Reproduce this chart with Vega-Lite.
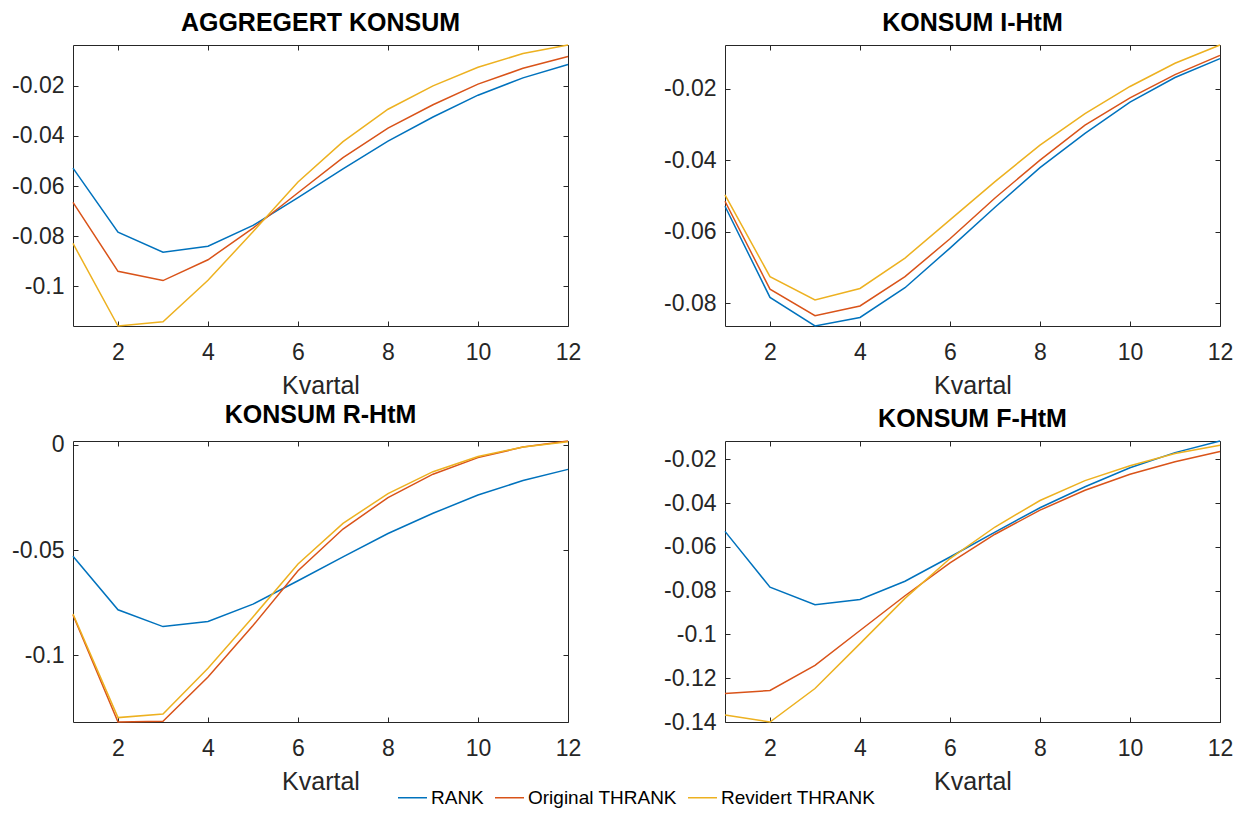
{
  "$schema": "https://vega.github.io/schema/vega-lite/v6.json",
  "background": "white",
  "padding": {"left": 11, "top": 10, "right": 0, "bottom": 0},
  "data": {
    "values": [
      {"panel": "AGG", "serie": "RANK", "kvartal": 1, "verdi": -0.0529},
      {"panel": "AGG", "serie": "RANK", "kvartal": 2, "verdi": -0.0784},
      {"panel": "AGG", "serie": "RANK", "kvartal": 3, "verdi": -0.0864},
      {"panel": "AGG", "serie": "RANK", "kvartal": 4, "verdi": -0.0840},
      {"panel": "AGG", "serie": "RANK", "kvartal": 5, "verdi": -0.0757},
      {"panel": "AGG", "serie": "RANK", "kvartal": 6, "verdi": -0.0646},
      {"panel": "AGG", "serie": "RANK", "kvartal": 7, "verdi": -0.0532},
      {"panel": "AGG", "serie": "RANK", "kvartal": 8, "verdi": -0.0421},
      {"panel": "AGG", "serie": "RANK", "kvartal": 9, "verdi": -0.0325},
      {"panel": "AGG", "serie": "RANK", "kvartal": 10, "verdi": -0.0238},
      {"panel": "AGG", "serie": "RANK", "kvartal": 11, "verdi": -0.0169},
      {"panel": "AGG", "serie": "RANK", "kvartal": 12, "verdi": -0.0116},
      {"panel": "AGG", "serie": "Original THRANK", "kvartal": 1, "verdi": -0.0665},
      {"panel": "AGG", "serie": "Original THRANK", "kvartal": 2, "verdi": -0.0940},
      {"panel": "AGG", "serie": "Original THRANK", "kvartal": 3, "verdi": -0.0977},
      {"panel": "AGG", "serie": "Original THRANK", "kvartal": 4, "verdi": -0.0894},
      {"panel": "AGG", "serie": "Original THRANK", "kvartal": 5, "verdi": -0.0768},
      {"panel": "AGG", "serie": "Original THRANK", "kvartal": 6, "verdi": -0.0627},
      {"panel": "AGG", "serie": "Original THRANK", "kvartal": 7, "verdi": -0.0487},
      {"panel": "AGG", "serie": "Original THRANK", "kvartal": 8, "verdi": -0.0369},
      {"panel": "AGG", "serie": "Original THRANK", "kvartal": 9, "verdi": -0.0276},
      {"panel": "AGG", "serie": "Original THRANK", "kvartal": 10, "verdi": -0.0194},
      {"panel": "AGG", "serie": "Original THRANK", "kvartal": 11, "verdi": -0.0131},
      {"panel": "AGG", "serie": "Original THRANK", "kvartal": 12, "verdi": -0.0084},
      {"panel": "AGG", "serie": "Revidert THRANK", "kvartal": 1, "verdi": -0.0829},
      {"panel": "AGG", "serie": "Revidert THRANK", "kvartal": 2, "verdi": -0.1158},
      {"panel": "AGG", "serie": "Revidert THRANK", "kvartal": 3, "verdi": -0.1141},
      {"panel": "AGG", "serie": "Revidert THRANK", "kvartal": 4, "verdi": -0.0976},
      {"panel": "AGG", "serie": "Revidert THRANK", "kvartal": 5, "verdi": -0.0782},
      {"panel": "AGG", "serie": "Revidert THRANK", "kvartal": 6, "verdi": -0.0584},
      {"panel": "AGG", "serie": "Revidert THRANK", "kvartal": 7, "verdi": -0.0423},
      {"panel": "AGG", "serie": "Revidert THRANK", "kvartal": 8, "verdi": -0.0294},
      {"panel": "AGG", "serie": "Revidert THRANK", "kvartal": 9, "verdi": -0.0201},
      {"panel": "AGG", "serie": "Revidert THRANK", "kvartal": 10, "verdi": -0.0127},
      {"panel": "AGG", "serie": "Revidert THRANK", "kvartal": 11, "verdi": -0.0072},
      {"panel": "AGG", "serie": "Revidert THRANK", "kvartal": 12, "verdi": -0.0038},

      {"panel": "I", "serie": "RANK", "kvartal": 1, "verdi": -0.0529},
      {"panel": "I", "serie": "RANK", "kvartal": 2, "verdi": -0.0784},
      {"panel": "I", "serie": "RANK", "kvartal": 3, "verdi": -0.0864},
      {"panel": "I", "serie": "RANK", "kvartal": 4, "verdi": -0.0840},
      {"panel": "I", "serie": "RANK", "kvartal": 5, "verdi": -0.0757},
      {"panel": "I", "serie": "RANK", "kvartal": 6, "verdi": -0.0646},
      {"panel": "I", "serie": "RANK", "kvartal": 7, "verdi": -0.0532},
      {"panel": "I", "serie": "RANK", "kvartal": 8, "verdi": -0.0421},
      {"panel": "I", "serie": "RANK", "kvartal": 9, "verdi": -0.0325},
      {"panel": "I", "serie": "RANK", "kvartal": 10, "verdi": -0.0238},
      {"panel": "I", "serie": "RANK", "kvartal": 11, "verdi": -0.0169},
      {"panel": "I", "serie": "RANK", "kvartal": 12, "verdi": -0.0116},
      {"panel": "I", "serie": "Original THRANK", "kvartal": 1, "verdi": -0.0515},
      {"panel": "I", "serie": "Original THRANK", "kvartal": 2, "verdi": -0.0761},
      {"panel": "I", "serie": "Original THRANK", "kvartal": 3, "verdi": -0.0835},
      {"panel": "I", "serie": "Original THRANK", "kvartal": 4, "verdi": -0.0808},
      {"panel": "I", "serie": "Original THRANK", "kvartal": 5, "verdi": -0.0726},
      {"panel": "I", "serie": "Original THRANK", "kvartal": 6, "verdi": -0.0620},
      {"panel": "I", "serie": "Original THRANK", "kvartal": 7, "verdi": -0.0506},
      {"panel": "I", "serie": "Original THRANK", "kvartal": 8, "verdi": -0.0400},
      {"panel": "I", "serie": "Original THRANK", "kvartal": 9, "verdi": -0.0302},
      {"panel": "I", "serie": "Original THRANK", "kvartal": 10, "verdi": -0.0226},
      {"panel": "I", "serie": "Original THRANK", "kvartal": 11, "verdi": -0.0161},
      {"panel": "I", "serie": "Original THRANK", "kvartal": 12, "verdi": -0.0107},
      {"panel": "I", "serie": "Revidert THRANK", "kvartal": 1, "verdi": -0.0497},
      {"panel": "I", "serie": "Revidert THRANK", "kvartal": 2, "verdi": -0.0726},
      {"panel": "I", "serie": "Revidert THRANK", "kvartal": 3, "verdi": -0.0791},
      {"panel": "I", "serie": "Revidert THRANK", "kvartal": 4, "verdi": -0.0759},
      {"panel": "I", "serie": "Revidert THRANK", "kvartal": 5, "verdi": -0.0674},
      {"panel": "I", "serie": "Revidert THRANK", "kvartal": 6, "verdi": -0.0567},
      {"panel": "I", "serie": "Revidert THRANK", "kvartal": 7, "verdi": -0.0460},
      {"panel": "I", "serie": "Revidert THRANK", "kvartal": 8, "verdi": -0.0358},
      {"panel": "I", "serie": "Revidert THRANK", "kvartal": 9, "verdi": -0.0270},
      {"panel": "I", "serie": "Revidert THRANK", "kvartal": 10, "verdi": -0.0194},
      {"panel": "I", "serie": "Revidert THRANK", "kvartal": 11, "verdi": -0.0129},
      {"panel": "I", "serie": "Revidert THRANK", "kvartal": 12, "verdi": -0.0078},

      {"panel": "R", "serie": "RANK", "kvartal": 1, "verdi": -0.0529},
      {"panel": "R", "serie": "RANK", "kvartal": 2, "verdi": -0.0784},
      {"panel": "R", "serie": "RANK", "kvartal": 3, "verdi": -0.0864},
      {"panel": "R", "serie": "RANK", "kvartal": 4, "verdi": -0.0840},
      {"panel": "R", "serie": "RANK", "kvartal": 5, "verdi": -0.0757},
      {"panel": "R", "serie": "RANK", "kvartal": 6, "verdi": -0.0646},
      {"panel": "R", "serie": "RANK", "kvartal": 7, "verdi": -0.0532},
      {"panel": "R", "serie": "RANK", "kvartal": 8, "verdi": -0.0421},
      {"panel": "R", "serie": "RANK", "kvartal": 9, "verdi": -0.0325},
      {"panel": "R", "serie": "RANK", "kvartal": 10, "verdi": -0.0238},
      {"panel": "R", "serie": "RANK", "kvartal": 11, "verdi": -0.0169},
      {"panel": "R", "serie": "RANK", "kvartal": 12, "verdi": -0.0116},
      {"panel": "R", "serie": "Original THRANK", "kvartal": 1, "verdi": -0.0809},
      {"panel": "R", "serie": "Original THRANK", "kvartal": 2, "verdi": -0.1318},
      {"panel": "R", "serie": "Original THRANK", "kvartal": 3, "verdi": -0.1315},
      {"panel": "R", "serie": "Original THRANK", "kvartal": 4, "verdi": -0.1104},
      {"panel": "R", "serie": "Original THRANK", "kvartal": 5, "verdi": -0.0859},
      {"panel": "R", "serie": "Original THRANK", "kvartal": 6, "verdi": -0.0598},
      {"panel": "R", "serie": "Original THRANK", "kvartal": 7, "verdi": -0.0400},
      {"panel": "R", "serie": "Original THRANK", "kvartal": 8, "verdi": -0.0250},
      {"panel": "R", "serie": "Original THRANK", "kvartal": 9, "verdi": -0.0139},
      {"panel": "R", "serie": "Original THRANK", "kvartal": 10, "verdi": -0.0060},
      {"panel": "R", "serie": "Original THRANK", "kvartal": 11, "verdi": -0.0010},
      {"panel": "R", "serie": "Original THRANK", "kvartal": 12, "verdi": 0.0019},
      {"panel": "R", "serie": "Revidert THRANK", "kvartal": 1, "verdi": -0.0804},
      {"panel": "R", "serie": "Revidert THRANK", "kvartal": 2, "verdi": -0.1297},
      {"panel": "R", "serie": "Revidert THRANK", "kvartal": 3, "verdi": -0.1280},
      {"panel": "R", "serie": "Revidert THRANK", "kvartal": 4, "verdi": -0.1062},
      {"panel": "R", "serie": "Revidert THRANK", "kvartal": 5, "verdi": -0.0818},
      {"panel": "R", "serie": "Revidert THRANK", "kvartal": 6, "verdi": -0.0566},
      {"panel": "R", "serie": "Revidert THRANK", "kvartal": 7, "verdi": -0.0373},
      {"panel": "R", "serie": "Revidert THRANK", "kvartal": 8, "verdi": -0.0231},
      {"panel": "R", "serie": "Revidert THRANK", "kvartal": 9, "verdi": -0.0127},
      {"panel": "R", "serie": "Revidert THRANK", "kvartal": 10, "verdi": -0.0055},
      {"panel": "R", "serie": "Revidert THRANK", "kvartal": 11, "verdi": -0.0010},
      {"panel": "R", "serie": "Revidert THRANK", "kvartal": 12, "verdi": 0.0016},

      {"panel": "F", "serie": "RANK", "kvartal": 1, "verdi": -0.0529},
      {"panel": "F", "serie": "RANK", "kvartal": 2, "verdi": -0.0784},
      {"panel": "F", "serie": "RANK", "kvartal": 3, "verdi": -0.0864},
      {"panel": "F", "serie": "RANK", "kvartal": 4, "verdi": -0.0840},
      {"panel": "F", "serie": "RANK", "kvartal": 5, "verdi": -0.0757},
      {"panel": "F", "serie": "RANK", "kvartal": 6, "verdi": -0.0646},
      {"panel": "F", "serie": "RANK", "kvartal": 7, "verdi": -0.0532},
      {"panel": "F", "serie": "RANK", "kvartal": 8, "verdi": -0.0421},
      {"panel": "F", "serie": "RANK", "kvartal": 9, "verdi": -0.0325},
      {"panel": "F", "serie": "RANK", "kvartal": 10, "verdi": -0.0238},
      {"panel": "F", "serie": "RANK", "kvartal": 11, "verdi": -0.0169},
      {"panel": "F", "serie": "RANK", "kvartal": 12, "verdi": -0.0116},
      {"panel": "F", "serie": "Original THRANK", "kvartal": 1, "verdi": -0.1270},
      {"panel": "F", "serie": "Original THRANK", "kvartal": 2, "verdi": -0.1256},
      {"panel": "F", "serie": "Original THRANK", "kvartal": 3, "verdi": -0.1141},
      {"panel": "F", "serie": "Original THRANK", "kvartal": 4, "verdi": -0.0982},
      {"panel": "F", "serie": "Original THRANK", "kvartal": 5, "verdi": -0.0823},
      {"panel": "F", "serie": "Original THRANK", "kvartal": 6, "verdi": -0.0673},
      {"panel": "F", "serie": "Original THRANK", "kvartal": 7, "verdi": -0.0542},
      {"panel": "F", "serie": "Original THRANK", "kvartal": 8, "verdi": -0.0432},
      {"panel": "F", "serie": "Original THRANK", "kvartal": 9, "verdi": -0.0341},
      {"panel": "F", "serie": "Original THRANK", "kvartal": 10, "verdi": -0.0268},
      {"panel": "F", "serie": "Original THRANK", "kvartal": 11, "verdi": -0.0211},
      {"panel": "F", "serie": "Original THRANK", "kvartal": 12, "verdi": -0.0164},
      {"panel": "F", "serie": "Revidert THRANK", "kvartal": 1, "verdi": -0.1368},
      {"panel": "F", "serie": "Revidert THRANK", "kvartal": 2, "verdi": -0.1400},
      {"panel": "F", "serie": "Revidert THRANK", "kvartal": 3, "verdi": -0.1247},
      {"panel": "F", "serie": "Revidert THRANK", "kvartal": 4, "verdi": -0.1042},
      {"panel": "F", "serie": "Revidert THRANK", "kvartal": 5, "verdi": -0.0835},
      {"panel": "F", "serie": "Revidert THRANK", "kvartal": 6, "verdi": -0.0653},
      {"panel": "F", "serie": "Revidert THRANK", "kvartal": 7, "verdi": -0.0509},
      {"panel": "F", "serie": "Revidert THRANK", "kvartal": 8, "verdi": -0.0388},
      {"panel": "F", "serie": "Revidert THRANK", "kvartal": 9, "verdi": -0.0297},
      {"panel": "F", "serie": "Revidert THRANK", "kvartal": 10, "verdi": -0.0229},
      {"panel": "F", "serie": "Revidert THRANK", "kvartal": 11, "verdi": -0.0173},
      {"panel": "F", "serie": "Revidert THRANK", "kvartal": 12, "verdi": -0.0135}
    ]
  },
  "columns": 2,
  "bounds": "flush",
  "spacing": {"row": 115, "column": 157},
  "concat": [
    {
      "title": "AGGREGERT KONSUM",
      "width": 495,
      "height": 281,
      "transform": [{"filter": "datum.panel === 'AGG'"}],
      "layer": [
        {
          "mark": {"type": "line", "strokeWidth": 1.5},
          "encoding": {
            "x": {"field": "kvartal", "type": "quantitative", "scale": {"domain": [1, 12], "nice": false, "zero": false},
                  "axis": {"orient": "bottom", "values": [2, 4, 6, 8, 10, 12], "title": "Kvartal", "labelPadding": 20}},
            "y": {"field": "verdi", "type": "quantitative", "scale": {"nice": false, "zero": false},
                  "axis": {"orient": "left", "values": [-0.1, -0.08, -0.06, -0.04, -0.02], "title": null, "labelPadding": 14,
                           "labelExpr": "replace(format(datum.value, '.2~f'), '\u2212', '-')"}},
            "color": {"field": "serie", "type": "nominal", "sort": ["RANK", "Original THRANK", "Revidert THRANK"],
                      "scale": {"domain": ["RANK", "Original THRANK", "Revidert THRANK"], "range": ["#0072BD", "#D95319", "#EDB120"]},
                      "legend": {"orient": "none", "legendX": 324, "legendY": 737, "direction": "horizontal", "title": null}}
          }
        },
        {
          "mark": {"type": "line", "strokeOpacity": 0},
          "encoding": {
            "x": {"field": "kvartal", "type": "quantitative", "axis": {"orient": "top", "values": [2, 4, 6, 8, 10, 12], "labels": false, "title": null}},
            "y": {"field": "verdi", "type": "quantitative", "axis": {"orient": "right", "values": [-0.1, -0.08, -0.06, -0.04, -0.02], "labels": false, "title": null}},
            "detail": {"field": "serie"}
          }
        }
      ],
      "resolve": {"axis": {"x": "independent", "y": "independent"}}
    },
    {
      "title": "KONSUM I-HtM",
      "width": 495,
      "height": 281,
      "transform": [{"filter": "datum.panel === 'I'"}],
      "layer": [
        {
          "mark": {"type": "line", "strokeWidth": 1.5},
          "encoding": {
            "x": {"field": "kvartal", "type": "quantitative", "scale": {"domain": [1, 12], "nice": false, "zero": false},
                  "axis": {"orient": "bottom", "values": [2, 4, 6, 8, 10, 12], "title": "Kvartal", "labelPadding": 20}},
            "y": {"field": "verdi", "type": "quantitative", "scale": {"nice": false, "zero": false},
                  "axis": {"orient": "left", "values": [-0.08, -0.06, -0.04, -0.02], "title": null, "labelPadding": 14,
                           "labelExpr": "replace(format(datum.value, '.2~f'), '\u2212', '-')"}},
            "color": {"field": "serie", "type": "nominal", "sort": ["RANK", "Original THRANK", "Revidert THRANK"]}
          }
        },
        {
          "mark": {"type": "line", "strokeOpacity": 0},
          "encoding": {
            "x": {"field": "kvartal", "type": "quantitative", "axis": {"orient": "top", "values": [2, 4, 6, 8, 10, 12], "labels": false, "title": null}},
            "y": {"field": "verdi", "type": "quantitative", "axis": {"orient": "right", "values": [-0.08, -0.06, -0.04, -0.02], "labels": false, "title": null}},
            "detail": {"field": "serie"}
          }
        }
      ],
      "resolve": {"axis": {"x": "independent", "y": "independent"}}
    },
    {
      "title": "KONSUM R-HtM",
      "width": 495,
      "height": 281,
      "transform": [{"filter": "datum.panel === 'R'"}],
      "layer": [
        {
          "mark": {"type": "line", "strokeWidth": 1.5},
          "encoding": {
            "x": {"field": "kvartal", "type": "quantitative", "scale": {"domain": [1, 12], "nice": false, "zero": false},
                  "axis": {"orient": "bottom", "values": [2, 4, 6, 8, 10, 12], "title": "Kvartal", "labelPadding": 20}},
            "y": {"field": "verdi", "type": "quantitative", "scale": {"nice": false, "zero": false},
                  "axis": {"orient": "left", "values": [-0.1, -0.05, 0], "title": null, "labelPadding": 14,
                           "labelExpr": "replace(format(datum.value, '.2~f'), '\u2212', '-')"}},
            "color": {"field": "serie", "type": "nominal", "sort": ["RANK", "Original THRANK", "Revidert THRANK"]}
          }
        },
        {
          "mark": {"type": "line", "strokeOpacity": 0},
          "encoding": {
            "x": {"field": "kvartal", "type": "quantitative", "axis": {"orient": "top", "values": [2, 4, 6, 8, 10, 12], "labels": false, "title": null}},
            "y": {"field": "verdi", "type": "quantitative", "axis": {"orient": "right", "values": [-0.1, -0.05, 0], "labels": false, "title": null}},
            "detail": {"field": "serie"}
          }
        }
      ],
      "resolve": {"axis": {"x": "independent", "y": "independent"}}
    },
    {
      "title": "KONSUM F-HtM",
      "width": 495,
      "height": 281,
      "transform": [{"filter": "datum.panel === 'F'"}],
      "layer": [
        {
          "mark": {"type": "line", "strokeWidth": 1.5},
          "encoding": {
            "x": {"field": "kvartal", "type": "quantitative", "scale": {"domain": [1, 12], "nice": false, "zero": false},
                  "axis": {"orient": "bottom", "values": [2, 4, 6, 8, 10, 12], "title": "Kvartal", "labelPadding": 20}},
            "y": {"field": "verdi", "type": "quantitative", "scale": {"nice": false, "zero": false},
                  "axis": {"orient": "left", "values": [-0.14, -0.12, -0.1, -0.08, -0.06, -0.04, -0.02], "title": null, "labelPadding": 14,
                           "labelExpr": "replace(format(datum.value, '.2~f'), '\u2212', '-')"}},
            "color": {"field": "serie", "type": "nominal", "sort": ["RANK", "Original THRANK", "Revidert THRANK"]}
          }
        },
        {
          "mark": {"type": "line", "strokeOpacity": 0},
          "encoding": {
            "x": {"field": "kvartal", "type": "quantitative", "axis": {"orient": "top", "values": [2, 4, 6, 8, 10, 12], "labels": false, "title": null}},
            "y": {"field": "verdi", "type": "quantitative", "axis": {"orient": "right", "values": [-0.14, -0.12, -0.1, -0.08, -0.06, -0.04, -0.02], "labels": false, "title": null}},
            "detail": {"field": "serie"}
          }
        }
      ],
      "resolve": {"axis": {"x": "independent", "y": "independent"}}
    }
  ],
  "config": {
    "font": "Liberation Sans",
    "view": {"stroke": "#262626", "strokeWidth": 1},
    "title": {"font": "Liberation Sans", "fontSize": 25, "fontWeight": "bold", "color": "#000000", "anchor": "middle", "baseline": "alphabetic", "offset": 6},
    "axis": {
      "domain": false,
      "grid": false,
      "ticks": true,
      "tickSize": -5,
      "tickColor": "#262626",
      "tickWidth": 1,
      "labelFont": "Liberation Sans",
      "labelFontSize": 23,
      "labelColor": "#262626",
      "labelFlush": false,
      "labelOverlap": false,
      "titleFont": "Liberation Sans",
      "titleFontSize": 25,
      "titleFontWeight": "normal",
      "titleColor": "#262626",
      "titlePadding": 9
    },
    "legend": {
      "symbolType": "stroke",
      "symbolSize": 841,
      "symbolStrokeWidth": 1.5,
      "labelFont": "Liberation Sans",
      "labelFontSize": 19,
      "labelColor": "#000000",
      "labelOffset": 3,
      "columnPadding": 8
    }
  }
}
